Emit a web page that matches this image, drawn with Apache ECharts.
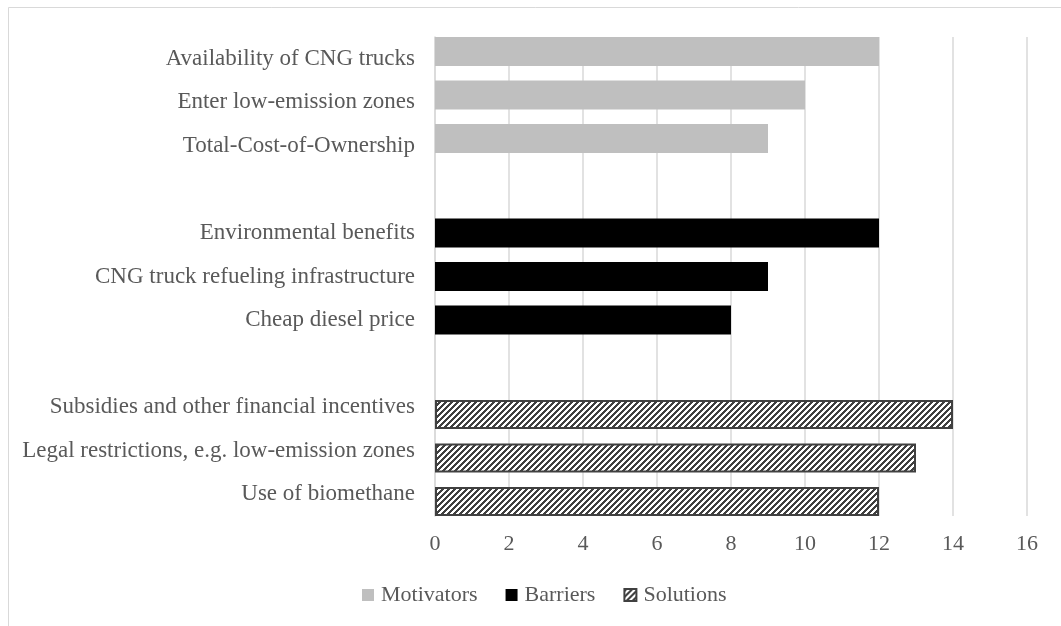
<!DOCTYPE html>
<html>
<head>
<meta charset="utf-8">
<script src="https://cdn.jsdelivr.net/npm/echarts@6/dist/echarts.min.js"></script>
<style>html,body{margin:0;padding:0;background:#fff;}#chart{width:1061px;height:626px;}</style>
</head>
<body>
<div id="chart"></div>
<script>
// Data
const categories = [
  'Availability of CNG trucks',
  'Enter low-emission zones',
  'Total-Cost-of-Ownership',
  ' ',
  'Environmental benefits',
  'CNG truck refueling infrastructure',
  'Cheap diesel price',
  '  ',
  'Subsidies and other financial incentives',
  'Legal restrictions, e.g. low-emission zones',
  'Use of biomethane'
];
const seriesNames = ['Motivators', 'Barriers', 'Solutions'];
const motivators = [12, 10, 9, null, null, null, null, null, null, null, null];
const barriers   = [null, null, null, null, 12, 9, 8, null, null, null, null];
const solutions  = [null, null, null, null, null, null, null, null, 14, 13, 12];
const xTicks = { min: 0, max: 16, interval: 2 };

// hatch pattern
function makeHatch() {
  const s = 6;
  const c = document.createElement('canvas');
  c.width = s; c.height = s;
  const ctx = c.getContext('2d');
  const img = ctx.createImageData(s, s);
  for (let y = 0; y < s; y++) {
    for (let x = 0; x < s; x++) {
      const i = (y * s + x) * 4;
      const dark = ((x + y) % s) < 3;
      const v = dark ? 0x40 : 0xff;
      img.data[i] = v; img.data[i + 1] = v; img.data[i + 2] = v; img.data[i + 3] = 255;
    }
  }
  ctx.putImageData(img, 0, 0);
  return { image: c, repeat: 'repeat' };
}
const hatch = makeHatch();

const FONT = 'Liberation Serif';
const TXT = '#595959';

const chart = echarts.init(document.getElementById('chart'), null, { renderer: 'canvas' });
chart.setOption({
  backgroundColor: '#ffffff',
  animation: false,
  graphic: [{
    type: 'rect',
    shape: { x: 8.5, y: 7.5, width: 1200, height: 800 },
    style: { fill: 'none', stroke: '#d9d9d9', lineWidth: 1 },
    silent: true, z: -1
  }],
  grid: { left: 435, right: 34, top: 37, bottom: 110, containLabel: false },
  legend: {
    data: seriesNames,
    left: 357, top: 579,
    itemWidth: 12, itemHeight: 12, itemGap: 28,
    icon: 'rect',
    textStyle: { fontFamily: FONT, fontSize: 22, color: TXT, padding: [0, 0, 0, 2] }
  },
  xAxis: {
    type: 'value',
    min: xTicks.min, max: xTicks.max, interval: xTicks.interval,
    axisLine: { show: false },
    axisTick: { show: false },
    splitLine: { show: true, lineStyle: { color: '#d9d9d9', width: 1.5 } },
    axisLabel: { fontFamily: FONT, fontSize: 22, color: TXT, margin: 17 }
  },
  yAxis: {
    type: 'category',
    data: categories,
    inverse: true,
    axisLine: { show: true, lineStyle: { color: '#d9d9d9', width: 1.5 } },
    axisTick: { show: false },
    axisLabel: { fontFamily: FONT, fontSize: 23, color: TXT, margin: 20 }
  },
  series: [
    {
      name: seriesNames[0], type: 'bar', data: motivators,
      barWidth: 29, barGap: '-75%',
      itemStyle: { color: '#bfbfbf' }
    },
    {
      name: seriesNames[1], type: 'bar', data: barriers,
      barWidth: 29, barGap: '-75%',
      itemStyle: { color: '#000000' }
    },
    {
      name: seriesNames[2], type: 'bar', data: solutions,
      barWidth: 29, barGap: '-75%',
      itemStyle: { color: hatch, borderColor: '#404040', borderWidth: 2 }
    }
  ]
});
</script>
</body>
</html>
